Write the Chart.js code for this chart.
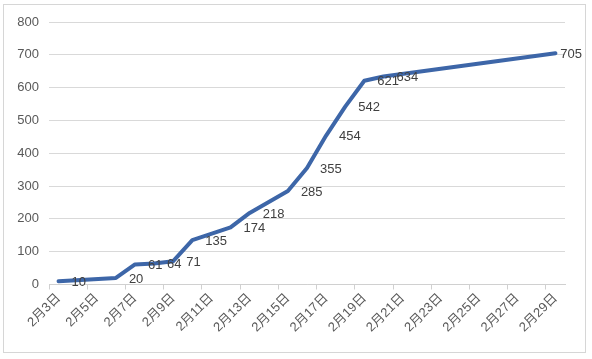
<!DOCTYPE html>
<html>
<head>
<meta charset="utf-8">
<script src="https://cdn.jsdelivr.net/npm/chart.js@4"></script>
<style>
  html, body { margin: 0; padding: 0; background: #ffffff; }
  #wrap { position: relative; width: 592px; height: 359px; }
  #frame { position: absolute; left: 3px; top: 4px; width: 581px; height: 347px; border: 1px solid #d6d6d6; }
  canvas { position: absolute; left: 0; top: 0; }
</style>
</head>
<body>
<div id="wrap">
  <div id="frame"></div>
  <canvas id="c" width="592" height="359"></canvas>
</div>
<script>
// Categories: every day from 2月3日 to 2月29日
const categories = ["2月3日","2月4日","2月5日","2月6日","2月7日","2月8日","2月9日","2月10日","2月11日","2月12日","2月13日","2月14日","2月15日","2月16日","2月17日","2月18日","2月19日","2月20日","2月21日","2月22日","2月23日","2月24日","2月25日","2月26日","2月27日","2月28日","2月29日"];
// Series values (null = no observation that day)
const seriesValues = [10,null,null,20,61,64,71,135,null,174,218,null,285,355,454,542,621,634,null,null,null,null,null,null,null,null,705];
// Y-axis ticks
const yTicks = [0,100,200,300,400,500,600,700,800];

const labelFont = "13px 'Liberation Sans', 'Noto Sans CJK SC', sans-serif";

const dataLabelPlugin = {
  id: 'dataLabels',
  afterDatasetsDraw(chart) {
    const ctx = chart.ctx;
    const meta = chart.getDatasetMeta(0);
    ctx.save();
    ctx.font = labelFont;
    ctx.fillStyle = '#404040';
    ctx.textBaseline = 'middle';
    ctx.textAlign = 'left';
    meta.data.forEach((pt, i) => {
      const v = seriesValues[i];
      if (v === null || v === undefined) return;
      const txt = String(v);
      const w = ctx.measureText(txt).width;
      let x = pt.x + 13;
      if (x + w > 582) x = 582 - w;
      ctx.fillText(txt, x, pt.y + 1);
    });
    ctx.restore();
  }
};

new Chart(document.getElementById('c'), {
  type: 'line',
  data: {
    labels: categories,
    datasets: [{
      data: seriesValues,
      borderColor: '#3d66a8',
      borderWidth: 4,
      pointRadius: 0,
      pointHoverRadius: 0,
      tension: 0,
      spanGaps: true,
      borderJoinStyle: 'round',
      borderCapStyle: 'round',
      fill: false
    }]
  },
  options: {
    responsive: false,
    animation: false,
    devicePixelRatio: 1,
    layout: { padding: { left: 0, right: 27, top: 22, bottom: 0 } },
    plugins: { legend: { display: false }, tooltip: { enabled: false } },
    scales: {
      x: {
        type: 'category',
        offset: true,
        afterFit(scale) { scale.height = 74.5; },
        grid: {
          offset: true,
          drawOnChartArea: false,
          drawTicks: true,
          tickLength: 5,
          color: (ctx) => (ctx.index % 2 === 0 && ctx.index < categories.length) ? '#d0d0d0' : 'rgba(0,0,0,0)',
          lineWidth: 1
        },
        border: { display: true, color: '#d0d0d0', width: 1 },
        ticks: {
          autoSkip: false,
          maxRotation: 45,
          minRotation: 45,
          padding: 1,
          color: '#595959',
          font: { family: "'Liberation Sans', 'Noto Sans CJK SC', sans-serif", size: 13 },
          callback: function(value, index) { return index % 2 === 0 ? categories[index] : ''; }
        }
      },
      y: {
        min: 0,
        max: 800,
        afterFit(scale) { scale.width = 49; },
        afterBuildTicks(scale) { scale.ticks = yTicks.map(v => ({ value: v })); },
        grid: { color: '#d9d9d9', lineWidth: 1, drawTicks: false },
        border: { display: false },
        ticks: {
          padding: 10,
          color: '#595959',
          font: { family: "'Liberation Sans', 'Noto Sans CJK SC', sans-serif", size: 13 }
        }
      }
    }
  },
  plugins: [dataLabelPlugin]
});
</script>
</body>
</html>
